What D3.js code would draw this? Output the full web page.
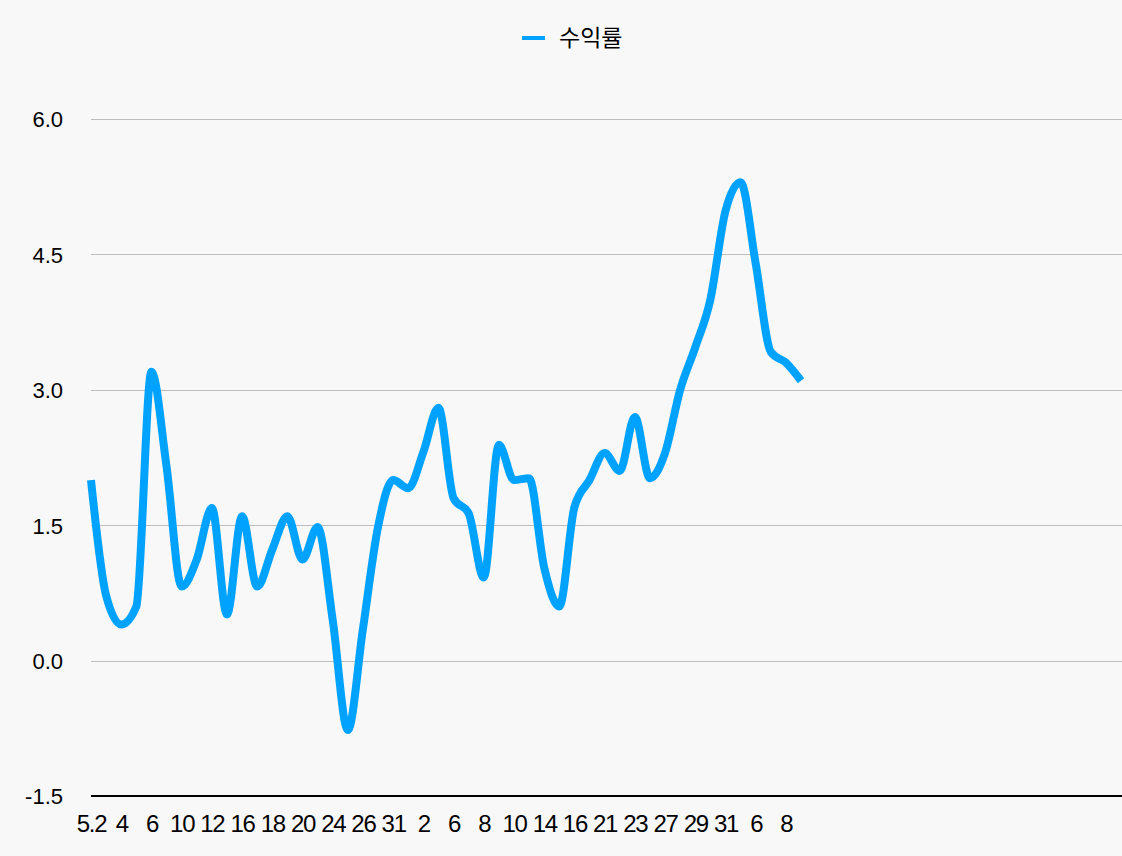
<!DOCTYPE html>
<html>
<head>
<meta charset="utf-8">
<script src="https://cdn.jsdelivr.net/npm/d3@7"></script>
<style>
  html, body { margin: 0; padding: 0; background: #f8f8f8; }
  svg { display: block; }
</style>
</head>
<body>
<svg id="chart" width="1122" height="856"></svg>
<script>
const seriesName = "수익률";
const categories = [
  "5.2","5.3","5.4","5.5","5.6","5.9","5.10","5.11","5.12","5.13",
  "5.16","5.17","5.18","5.19","5.20","5.23","5.24","5.25","5.26","5.30",
  "5.31","6.1","6.2","6.3","6.6","6.7","6.8","6.9","6.10","6.13",
  "6.14","6.15","6.16","6.20","6.21","6.22","6.23","6.24","6.27","6.28",
  "6.29","6.30","6.31","7.1","7.6","7.7","7.8","7.9"
];
const values = [
  2.0, 0.72, 0.4, 0.6, 3.2, 2.15, 0.82, 1.12, 1.69, 0.51,
  1.6, 0.82, 1.23, 1.6, 1.12, 1.48, 0.45, -0.77, 0.35, 1.48,
  2.0, 1.91, 2.31, 2.8, 1.8, 1.63, 0.92, 2.39, 2.0, 2.02,
  1.03, 0.6, 1.7, 2.0, 2.3, 2.1, 2.7, 2.02, 2.3, 3.0,
  3.47, 4.0, 4.98, 5.3, 4.4, 3.42, 3.3, 3.1
];
const xTickLabels = ["5.2","4","6","10","12","16","18","20","24","26","31","2","6","8","10","14","16","21","23","27","29","31","6","8"];
const yTickValues = [-1.5, 0.0, 1.5, 3.0, 4.5, 6.0];

(function () {
const W = 1122, H = 856;
const mLeft = 91, mRight = 1122, mTop = 119, mBottom = 796;
const lineColor = "#00a2ff";
const font = "'Liberation Sans', Arial, Helvetica, sans-serif";

const svg = d3.select("#chart");
svg.append("rect").attr("width", W).attr("height", H).attr("fill", "#f8f8f8");

const x = d3.scalePoint().domain(categories).range([91, 801]);
const y = d3.scaleLinear().domain([-1.5, 6.0]).range([mBottom, mTop]);

// gridlines
svg.append("g").selectAll("line")
  .data(yTickValues.filter(v => v !== -1.5))
  .join("line")
  .attr("x1", mLeft).attr("x2", mRight)
  .attr("y1", d => Math.round(y(d)) + 0.5).attr("y2", d => Math.round(y(d)) + 0.5)
  .attr("stroke", "#bdbdbd").attr("stroke-width", 1);

// y axis labels
const yAxis = d3.axisLeft(y).tickValues(yTickValues).tickSize(0).tickPadding(0)
  .tickFormat(d => d.toFixed(1));
const yg = svg.append("g").attr("transform", `translate(63,0)`).call(yAxis);
yg.select(".domain").remove();
yg.selectAll("text").attr("font-family", font).attr("font-size", 22).attr("fill", "#000")
  .attr("dy", "0.36em");

// x axis
const xTicks = categories.filter((d, i) => i % 2 === 0);
const xAxis = d3.axisBottom(x).tickValues(xTicks).tickSize(0).tickPadding(0)
  .tickFormat((d, i) => xTickLabels[i]);
const xg = svg.append("g").attr("transform", `translate(0,${mBottom})`).call(xAxis);
xg.select(".domain").remove();
xg.selectAll("text").attr("font-family", font).attr("font-size", 24).attr("fill", "#000")
  .attr("letter-spacing", "-1.3px")
  .attr("dy", 0).attr("y", 36);

svg.append("line")
  .attr("x1", mLeft).attr("x2", mRight)
  .attr("y1", mBottom).attr("y2", mBottom)
  .attr("stroke", "#000").attr("stroke-width", 2);

// series line
const line = d3.line()
  .x((d, i) => x(categories[i]))
  .y(d => y(d))
  .curve(d3.curveMonotoneX);

svg.append("path")
  .datum(values)
  .attr("d", line)
  .attr("fill", "none")
  .attr("stroke", lineColor)
  .attr("stroke-width", 8)
  .attr("stroke-linejoin", "round");

// legend
const lg = svg.append("g");
lg.append("line").attr("x1", 522).attr("x2", 545).attr("y1", 38).attr("y2", 38)
  .attr("stroke", lineColor).attr("stroke-width", 4);
lg.append("text").attr("x", 559).attr("y", 38).attr("dy", "0.36em")
  .attr("font-family", "'Noto Sans CJK KR', sans-serif").attr("font-size", 23)
  .attr("fill", "#000").text(seriesName);
})();
</script>
</body>
</html>
